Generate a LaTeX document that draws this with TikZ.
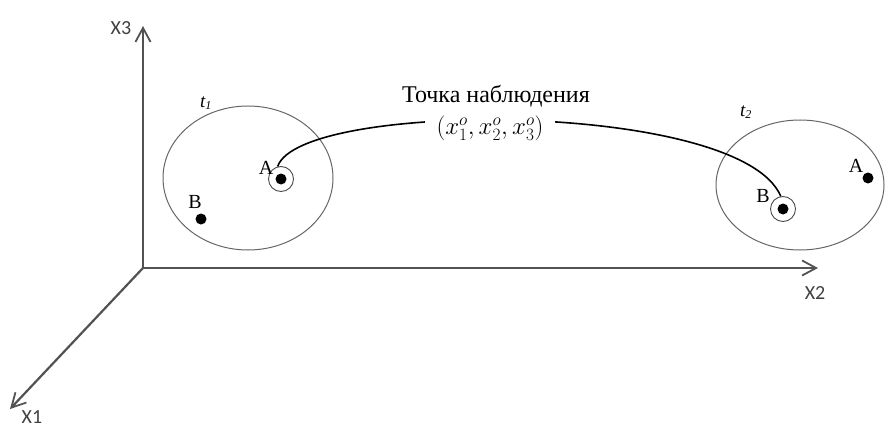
\documentclass[tikz,border=0pt]{standalone}
\usepackage{fontspec}
\setmainfont{Liberation Serif}
\newfontfamily\axisfont{Carlito}
\usetikzlibrary{arrows.meta,shapes.geometric}
\begin{document}
\begin{tikzpicture}[x=1pt,y=-1pt,
  axis/.style={draw=black!68,line width=2.2pt,-{Straight Barb[length=14pt,width=15pt,line width=1.8pt]}},
  axlabel/.style={font=\axisfont\fontsize{20}{22}\selectfont,text=black!75,inner sep=0pt},
  region/.style={draw=black!60,line width=1pt,ellipse,inner sep=0pt},
  dotpt/.style={circle,fill=black,minimum size=11pt,inner sep=0pt},
  ringpt/.style={circle,draw=black!70,line width=0.9pt,minimum size=25pt,inner sep=0pt},
  ptlabel/.style={font=\fontsize{20}{22}\selectfont,inner sep=0pt},
  tlabel/.style={font=\itshape\fontsize{19}{22}\selectfont,inner sep=0pt},
  path/.style={draw=black,line width=1.6pt}
]
\useasboundingbox (0,0) rectangle (888,425);
% axes
\coordinate (O) at (143,268);
\coordinate (X3e) at (143,26);
\coordinate (X2e) at (818,268);
\coordinate (X1e) at (10,409);
\draw[axis] (O) -- (X3e);
\draw[axis] (O) -- (X2e);
\draw[axis] (O) -- (X1e);
\node[axlabel] (lX3) at (121,28) {X3};
\node[axlabel] (lX2) at (815,293) {X2};
\node[axlabel] (lX1) at (32,417) {X1};
% regions
\node[region,minimum width=170pt,minimum height=144pt] (e1) at (248,178) {};
\node[region,minimum width=168pt,minimum height=130pt] (e2) at (800,185) {};
\node[tlabel] (t1) at (206,103) {t\textsubscript{\fontsize{12}{13}\selectfont 1}};
\node[tlabel] (t2) at (746,112) {t\textsubscript{\fontsize{12}{13}\selectfont 2}};
% points, first region
\node[ringpt] (rA1) at (281,179) {};
\node[dotpt] (dA1) at (281,179) {};
\node[ptlabel] (lA1) at (266,168) {A};
\node[dotpt] (dB1) at (201,219) {};
\node[ptlabel] (lB1) at (195,202) {B};
% points, second region
\node[ringpt] (rB2) at (783,209) {};
\node[dotpt] (dB2) at (783,209) {};
\node[ptlabel] (lB2) at (763,196) {B};
\node[dotpt] (dA2) at (868,178) {};
\node[ptlabel] (lA2) at (856,166) {A};
% observation path
\draw[path] (rA1.105) .. controls (300,100) and (740,100) .. (rB2.100);
\node[font=\fontsize{24}{27}\selectfont,inner sep=0pt] (obs) at (496,96) {Точка наблюдения};
\node[fill=white,inner xsep=12pt,inner ysep=2pt,font=\fontsize{24}{27}\selectfont] (coord) at (490,128) {$(x_1^o,x_2^o,x_3^o)$};
\end{tikzpicture}
\end{document}
